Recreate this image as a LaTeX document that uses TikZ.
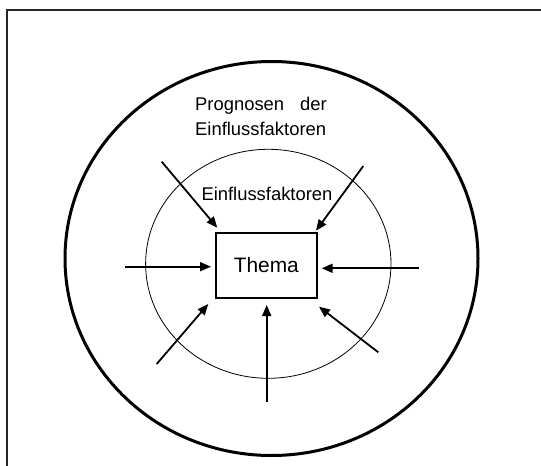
\documentclass[tikz,border=0pt]{standalone}
\usepackage{fontspec}
\setmainfont{Liberation Sans}
\usetikzlibrary{arrows.meta}
\tikzset{
  frameline/.style={line width=2pt, draw=black!85},
  outerring/.style={line width=3pt},
  innerring/.style={line width=0.8pt},
  themebox/.style={draw, line width=1.8pt, minimum width=101pt, minimum height=65pt, inner sep=0pt, font=\fontsize{20.9}{24}\selectfont},
  inarrow/.style={line width=1.8pt, -{Triangle[length=11pt,width=9pt]}},
  label/.style={inner sep=0pt, font=\fontsize{18.4}{22}\selectfont}
}
\begin{document}
\begin{tikzpicture}[x=1pt,y=-1pt]
\useasboundingbox (0,0) rectangle (541,466);
\clip (0,0) rectangle (541,466);
\fill[white] (0,0) rectangle (541,466);
% frame (cut at right and bottom)
\draw[frameline] (6.5,470) -- (6.5,10) -- (545,10);
% rings
\draw[outerring] (271.5,258.5) ellipse [x radius=206.5pt, y radius=197pt];
\draw[innerring] (268.3,263.8) ellipse [x radius=122.7pt, y radius=114.5pt];
% box
\node[themebox] (thema) at (266.3,265.5) {Thema};
% labels
\node[label, anchor=base west] (prog) at (195,110) {\makebox[131.5pt][s]{Prognosen\hfill der}};
\node[label, anchor=base west] (prog2) at (195,135) {Einflussfaktoren};
\node[label, anchor=base west] (einfl) at (201.3,200) {Einflussfaktoren};
% arrow ends
\coordinate (sL) at (125,266.7);   \coordinate (tL) at (211,266.7);
\coordinate (sR) at (419,268.3);   \coordinate (tR) at (321.7,268.3);
\coordinate (sB) at (266.7,401.7); \coordinate (tB) at (266.7,305);
\coordinate (sLL) at (156.7,364);  \coordinate (tLL) at (208.3,304);
\coordinate (sLR) at (378.3,352.3);\coordinate (tLR) at (319,306.7);
\coordinate (sUL) at (161.7,161.7);\coordinate (tUL) at (217.3,227.7);
\coordinate (sUR) at (363.3,166);  \coordinate (tUR) at (316,230.7);
\foreach \a in {L,R,B,LL,LR,UL,UR} {
  \draw[inarrow] (s\a) -- (t\a);
}
\end{tikzpicture}
\end{document}
